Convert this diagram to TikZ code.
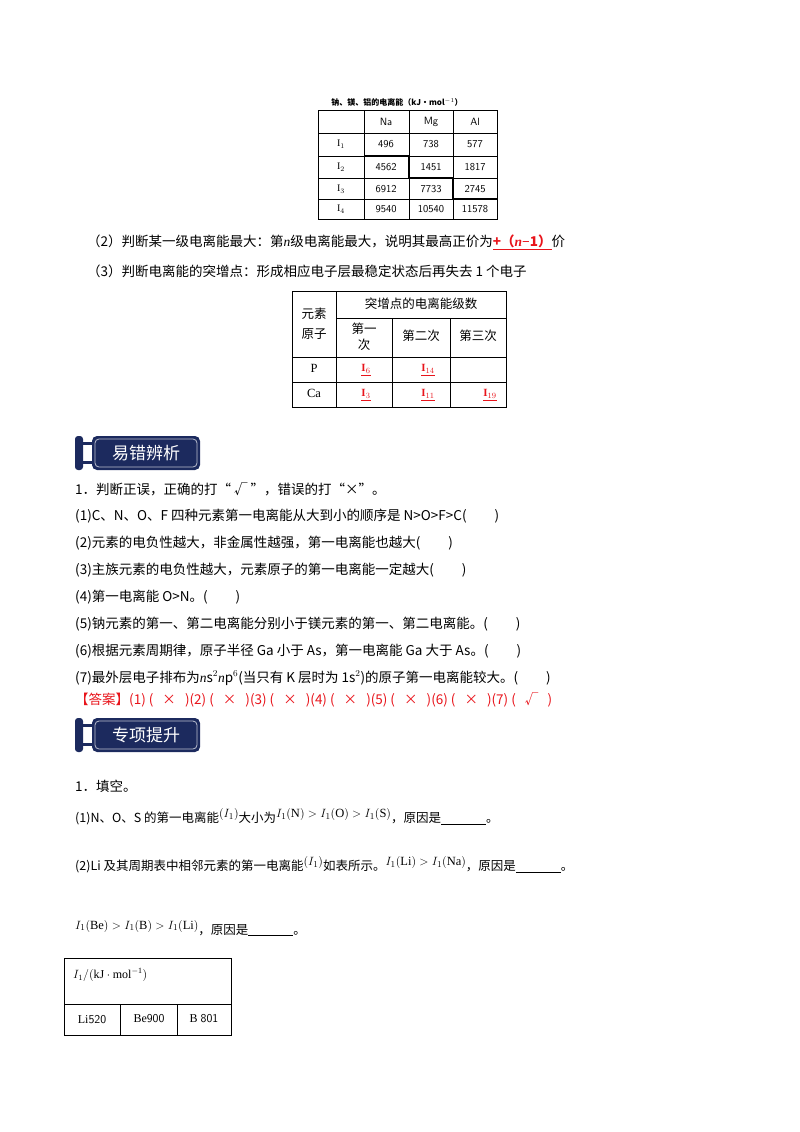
\documentclass[tikz,border=0pt]{standalone}
\usepackage{fontspec}
\setmainfont{Liberation Serif}
\newfontfamily\cjk{Noto Sans CJK SC}
\definecolor{navy}{HTML}{1C2A5E}
\definecolor{ansred}{HTML}{E8141B}
\begin{document}
\begin{tikzpicture}[x=1pt,y=-1pt,
  line/.style={anchor=west,inner sep=0pt,font=\cjk\fontsize{13.5}{16}\selectfont},
  cell/.style={inner sep=0pt,font=\fontsize{11}{13}\selectfont},
  tl/.style={line width=0.6pt}]
\useasboundingbox (0,0) rectangle (800,1132);
% Table 1
\node[cell,font=\cjk\bfseries\fontsize{8}{10}\selectfont] (cap) at (397,102) {钠、镁、铝的电离能（kJ·mol$^{-1}$）};
\draw[tl] (318,110) rectangle (497,219);
\foreach \x in {364,409,453} \draw[tl] (\x,110) -- (\x,219);
\foreach \y in {133,156,178,199} \draw[tl] (318,\y) -- (497,\y);
\draw[line width=1.3pt] (364,156)--(409,156)--(409,178)--(453,178)--(453,199)--(497,199);
\begin{scope}[every node/.style={cell,font=\sffamily\fontsize{10.5}{12}\selectfont}]
\node (h1) at (386,122) {Na}; \node (h2) at (431,122) {Mg}; \node (h3) at (475,122) {Al};
\node at (386,144) {496}; \node at (431,144) {738}; \node at (475,144) {577};
\node at (386,167) {4562}; \node at (431,167) {1451}; \node at (475,167) {1817};
\node at (386,189) {6912}; \node at (431,189) {7733}; \node at (475,189) {2745};
\node at (386,209) {9540}; \node at (431,209) {10540}; \node at (475,209) {11578};
\end{scope}
\begin{scope}[every node/.style={cell,font=\fontsize{10}{12}\selectfont}]
\node at (341,144) {I$_1$}; \node at (341,167) {I$_2$}; \node at (341,189) {I$_3$}; \node at (341,209) {I$_4$};
\end{scope}
% lines (2)(3)
\node[line] (l2) at (87,242) {（2）判断某一级电离能最大：第{\rmfamily\itshape n}级电离能最大，说明其最高正价为\textcolor{ansred}{\bfseries\underline{+（{\rmfamily\itshape n}{\rmfamily −}1）}}价};
\node[line] (l3) at (87,271) {（3）判断电离能的突增点：形成相应电子层最稳定状态后再失去 1 个电子};
% Table 2
\draw[tl] (292,291) rectangle (506,407);
\draw[tl] (336,291)--(336,407);
\draw[tl] (336,318)--(506,318);
\draw[tl] (392,318)--(392,407); \draw[tl] (450,318)--(450,407);
\draw[tl] (292,357)--(506,357); \draw[tl] (292,382)--(506,382);
\begin{scope}[every node/.style={cell,font=\cjk\fontsize{12.5}{16}\selectfont,align=center}]
\node (t0) at (314,324) {元素\\[4pt]原子};
\node (t1) at (421,304) {突增点的电离能级数};
\node at (364,337) {第一\\次};
\node at (421,336) {第二次};
\node at (478,336) {第三次};
\end{scope}
\begin{scope}[every node/.style={cell,font=\fontsize{12.5}{14}\selectfont}]
\node at (314,368) {P}; \node at (314,393) {Ca};
\end{scope}
\begin{scope}[every node/.style={cell,text=ansred,font=\bfseries\fontsize{11}{13}\selectfont}]
\node at (366,370) {\underline{I$_6$}}; \node at (428,370) {\underline{I$_{14}$}};
\node at (366,395) {\underline{I$_3$}}; \node at (428,395) {\underline{I$_{11}$}}; \node at (490,395) {\underline{I$_{19}$}};
\end{scope}
% banners
\foreach \yy/\txt/\nm in {436/易错辨析/b1,718/专项提升/b2}{
  \fill[navy,rounded corners=3pt] (75,\yy) rectangle (83,\yy+34);
  \fill[navy] (83,\yy+6) rectangle (94,\yy+9);
  \fill[navy] (83,\yy+25) rectangle (94,\yy+28);
  \fill[navy,rounded corners=5pt] (92,\yy) rectangle (200,\yy+34);
  \draw[white!70!navy,line width=0.8pt,rounded corners=4pt] (95,\yy+3) rectangle (197,\yy+31);
  \node[text=white,font=\cjk\fontsize{17}{20}\selectfont,inner sep=0pt] (\nm) at (146,\yy+17) {\txt};
}
% questions
\node[line] (q0) at (75,489) {1．判断正误，正确的打“ √ ”，错误的打“×”。};
\node[line] (q1) at (75,516) {(1)C、N、O、F 四种元素第一电离能从大到小的顺序是 N>O>F>C(\hspace{28pt})};
\node[line] (q2) at (75,543) {(2)元素的电负性越大，非金属性越强，第一电离能也越大(\hspace{28pt})};
\node[line] (q3) at (75,570) {(3)主族元素的电负性越大，元素原子的第一电离能一定越大(\hspace{28pt})};
\node[line] (q4) at (75,597) {(4)第一电离能 O>N。(\hspace{28pt})};
\node[line] (q5) at (75,624) {(5)钠元素的第一、第二电离能分别小于镁元素的第一、第二电离能。(\hspace{28pt})};
\node[line] (q6) at (75,651) {(6)根据元素周期律，原子半径 Ga 小于 As，第一电离能 Ga 大于 As。(\hspace{28pt})};
\node[line] (q7) at (75,678) {(7)最外层电子排布为{\rmfamily\itshape n}s$^2${\rmfamily\itshape n}p$^6$(当只有 K 层时为 1s$^2$)的原子第一电离能较大。(\hspace{28pt})};
\node[line,text=ansred] (ans) at (75,700) {【答案】(1) (\ \ \ ×\ \ \ )(2) (\ \ \ ×\ \ \ )(3) (\ \ \ ×\ \ \ )(4) (\ \ \ ×\ \ \ )(5) (\ \ \ ×\ \ \ )(6) (\ \ \ ×\ \ \ )(7) (\ \ \ √\ \ \ )};
% fill-in
\node[line] (f0) at (75,786) {1．填空。};
\node[line,font=\cjk\fontsize{12.5}{15}\selectfont] (f1) at (75,817) {(1)N、O、S 的第一电离能\raisebox{5pt}{{\rmfamily$(I_1)$}}大小为\raisebox{5pt}{{\rmfamily$I_1(\mathrm{N})>I_1(\mathrm{O})>I_1(\mathrm{S})$}}，原因是\underline{\hspace{45pt}}。};
\node[line,font=\cjk\fontsize{12.5}{15}\selectfont] (f2) at (75,865) {(2)Li 及其周期表中相邻元素的第一电离能\raisebox{5pt}{{\rmfamily$(I_1)$}}如表所示。\raisebox{5pt}{{\rmfamily$I_1(\mathrm{Li})>I_1(\mathrm{Na})$}}，原因是\underline{\hspace{45pt}}。};
\node[line,font=\cjk\fontsize{12.5}{15}\selectfont] (f3) at (75,928) {\raisebox{5pt}{{\rmfamily$I_1(\mathrm{Be})>I_1(\mathrm{B})>I_1(\mathrm{Li})$}}，原因是\underline{\hspace{45pt}}。};
% table 3
\draw[tl] (64,958) rectangle (231,1035);
\draw[tl] (64,1004)--(231,1004);
\draw[tl] (120,1004)--(120,1035); \draw[tl] (177,1004)--(177,1035);
\node[cell,anchor=west,font=\fontsize{12}{14}\selectfont] (u) at (73,975) {$I_1/\bigl(\mathrm{kJ\cdot mol^{-1}}\bigr)$};
\node[cell,font=\fontsize{12}{14}\selectfont] at (92,1020) {Li{\sffamily 520}};
\node[cell,font=\fontsize{12}{14}\selectfont] at (149,1019) {Be{\sffamily 900}};
\node[cell,font=\fontsize{12}{14}\selectfont] at (204,1019) {B {\sffamily 801}};
\end{tikzpicture}
\end{document}
